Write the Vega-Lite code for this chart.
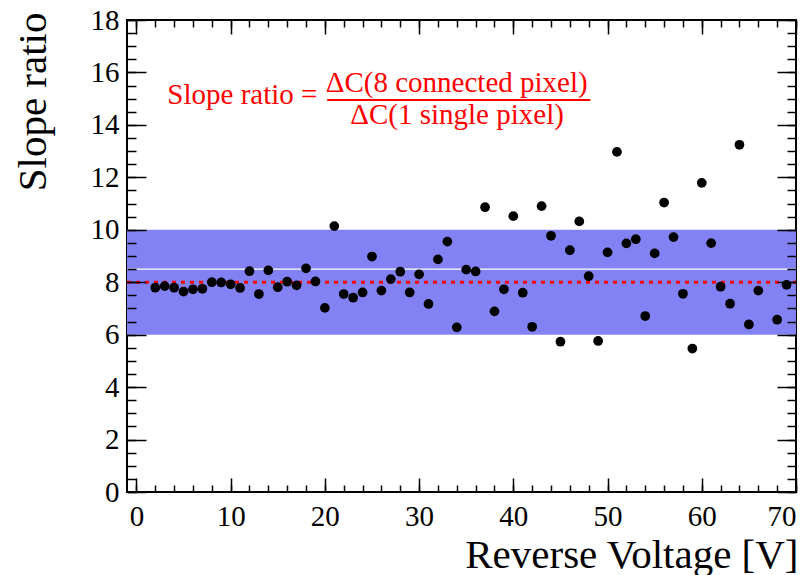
{
  "$schema": "https://vega.github.io/schema/vega-lite/v6.json",
  "width": 669,
  "height": 472,
  "autosize": {"type": "none"},
  "padding": {"left": 127, "top": 20, "right": 16, "bottom": 83},
  "background": "white",
  "config": {
    "font": "Liberation Serif",
    "view": {"stroke": "#000000", "strokeWidth": 2},
    "axis": {
      "grid": false,
      "domain": false,
      "labelFont": "Liberation Serif",
      "labelFontSize": 29,
      "labelColor": "#000000",
      "titleFont": "Liberation Serif",
      "titleFontSize": 41,
      "titleFontWeight": "normal",
      "titleColor": "#000000",
      "tickColor": "#000000",
      "tickWidth": 1.5
    }
  },
  "datasets": {
    "band": [{"x1": -1, "x2": 70, "y1": 6, "y2": 10}],
    "mean": [{"x1": -1, "x2": 70, "y": 8}],
    "whiteline": [{"x1": -1, "x2": 70, "y": 8.5}],
    "points": [
      {"voltage": 2, "ratio": 7.79}, {"voltage": 3, "ratio": 7.85}, {"voltage": 4, "ratio": 7.79},
      {"voltage": 5, "ratio": 7.64}, {"voltage": 6, "ratio": 7.73}, {"voltage": 7, "ratio": 7.75},
      {"voltage": 8, "ratio": 8.0}, {"voltage": 9, "ratio": 7.99}, {"voltage": 10, "ratio": 7.92},
      {"voltage": 11, "ratio": 7.78}, {"voltage": 12, "ratio": 8.42}, {"voltage": 13, "ratio": 7.55},
      {"voltage": 14, "ratio": 8.45}, {"voltage": 15, "ratio": 7.81}, {"voltage": 16, "ratio": 8.02},
      {"voltage": 17, "ratio": 7.88}, {"voltage": 18, "ratio": 8.53}, {"voltage": 19, "ratio": 8.03},
      {"voltage": 20, "ratio": 7.02}, {"voltage": 21, "ratio": 10.14}, {"voltage": 22, "ratio": 7.55},
      {"voltage": 23, "ratio": 7.41}, {"voltage": 24, "ratio": 7.61}, {"voltage": 25, "ratio": 8.98},
      {"voltage": 26, "ratio": 7.68}, {"voltage": 27, "ratio": 8.12}, {"voltage": 28, "ratio": 8.4},
      {"voltage": 29, "ratio": 7.61}, {"voltage": 30, "ratio": 8.3}, {"voltage": 31, "ratio": 7.17},
      {"voltage": 32, "ratio": 8.87}, {"voltage": 33, "ratio": 9.55}, {"voltage": 34, "ratio": 6.28},
      {"voltage": 35, "ratio": 8.48}, {"voltage": 36, "ratio": 8.41}, {"voltage": 37, "ratio": 10.86},
      {"voltage": 38, "ratio": 6.89}, {"voltage": 39, "ratio": 7.73}, {"voltage": 40, "ratio": 10.52},
      {"voltage": 41, "ratio": 7.6}, {"voltage": 42, "ratio": 6.3}, {"voltage": 43, "ratio": 10.9},
      {"voltage": 44, "ratio": 9.77}, {"voltage": 45, "ratio": 5.73}, {"voltage": 46, "ratio": 9.22},
      {"voltage": 47, "ratio": 10.32}, {"voltage": 48, "ratio": 8.23}, {"voltage": 49, "ratio": 5.76},
      {"voltage": 50, "ratio": 9.14}, {"voltage": 51, "ratio": 12.97}, {"voltage": 52, "ratio": 9.48},
      {"voltage": 53, "ratio": 9.64}, {"voltage": 54, "ratio": 6.71}, {"voltage": 55, "ratio": 9.1},
      {"voltage": 56, "ratio": 11.04}, {"voltage": 57, "ratio": 9.72}, {"voltage": 58, "ratio": 7.56},
      {"voltage": 59, "ratio": 5.47}, {"voltage": 60, "ratio": 11.79}, {"voltage": 61, "ratio": 9.49},
      {"voltage": 62, "ratio": 7.83}, {"voltage": 63, "ratio": 7.18}, {"voltage": 64, "ratio": 13.24},
      {"voltage": 65, "ratio": 6.39}, {"voltage": 66, "ratio": 7.68}, {"voltage": 68, "ratio": 6.57},
      {"voltage": 69, "ratio": 7.9}
    ],
    "formula": [
      {"x": 3.28, "y": 14.8, "label": "Slope ratio ="},
      {"x": 20.1, "y": 15.24, "label": "ΔC(8 connected pixel)"},
      {"x": 22.7, "y": 14.05, "label": "ΔC(1 single pixel)"}
    ],
    "fraction": [{"x1": 20.25, "x2": 48.17, "y": 14.95}]
  },
  "resolve": {"axis": {"x": "independent", "y": "independent"}},
  "layer": [
    {
      "data": {"name": "band"},
      "mark": {"type": "rect", "fill": "#8282f5", "stroke": null},
      "encoding": {
        "x": {"field": "x1", "type": "quantitative",
              "scale": {"domain": [-1, 70], "nice": false, "zero": false},
              "axis": {"orient": "bottom", "values": [0, 10, 20, 30, 40, 50, 60, 70], "ticks": false,
                       "labelFont": "Liberation Serif", "titleFont": "Liberation Serif",
                       "labelPadding": 10, "title": "Reverse Voltage [V]", "titleAnchor": "end",
                       "titleAlign": "right", "titleBaseline": "alphabetic", "titleX": 671, "titleY": 75}},
        "x2": {"field": "x2"},
        "y": {"field": "y1", "type": "quantitative",
              "scale": {"domain": [0, 18], "nice": false, "zero": false},
              "axis": {"orient": "left", "values": [0, 2, 4, 6, 8, 10, 12, 14, 16, 18], "ticks": false,
                       "labelFont": "Liberation Serif", "titleFont": "Liberation Serif",
                       "labelPadding": 8, "title": "Slope ratio", "titleAngle": -90, "titleAlign": "right",
                       "titleBaseline": "alphabetic", "titleX": -82, "titleY": -8}},
        "y2": {"field": "y2"}
      }
    },
    {
      "data": {"name": "whiteline"},
      "mark": {"type": "rule", "color": "#ffffff", "strokeWidth": 1.2},
      "encoding": {
        "x": {"field": "x1", "type": "quantitative",
              "axis": {"orient": "bottom", "values": [0, 10, 20, 30, 40, 50, 60, 70], "labels": false,
                       "tickSize": -14, "title": null, "zindex": 1}},
        "x2": {"field": "x2"},
        "y": {"field": "y", "type": "quantitative",
              "axis": {"orient": "left", "values": [0, 2, 4, 6, 8, 10, 12, 14, 16, 18], "labels": false,
                       "tickSize": -19, "title": null, "zindex": 1}}
      }
    },
    {
      "data": {"name": "mean"},
      "mark": {"type": "rule", "color": "#ff0000", "strokeWidth": 3, "strokeDash": [4, 5]},
      "encoding": {
        "x": {"field": "x1", "type": "quantitative",
              "axis": {"orient": "bottom", "values": [0, 2, 4, 6, 8, 10, 12, 14, 16, 18, 20, 22, 24, 26, 28, 30, 32, 34, 36, 38, 40, 42, 44, 46, 48, 50, 52, 54, 56, 58, 60, 62, 64, 66, 68, 70],
                       "labels": false, "tickSize": -7, "title": null, "zindex": 1}},
        "x2": {"field": "x2"},
        "y": {"field": "y", "type": "quantitative",
              "axis": {"orient": "left", "values": [0, 0.5, 1, 1.5, 2, 2.5, 3, 3.5, 4, 4.5, 5, 5.5, 6, 6.5, 7, 7.5, 8, 8.5, 9, 9.5, 10, 10.5, 11, 11.5, 12, 12.5, 13, 13.5, 14, 14.5, 15, 15.5, 16, 16.5, 17, 17.5, 18],
                       "labels": false, "tickSize": -9, "title": null, "zindex": 1}}
      }
    },
    {
      "data": {"name": "points"},
      "mark": {"type": "circle", "color": "#000000", "opacity": 1, "size": 95},
      "encoding": {
        "x": {"field": "voltage", "type": "quantitative",
              "axis": {"orient": "top", "values": [0, 10, 20, 30, 40, 50, 60, 70], "labels": false,
                       "tickSize": -14, "title": null, "zindex": 1}},
        "y": {"field": "ratio", "type": "quantitative",
              "axis": {"orient": "right", "values": [0, 2, 4, 6, 8, 10, 12, 14, 16, 18], "labels": false,
                       "tickSize": -19, "title": null, "zindex": 1}}
      }
    },
    {
      "data": {"name": "formula"},
      "mark": {"type": "text", "color": "#ff0000", "font": "Liberation Serif", "fontSize": 29,
               "align": "left", "baseline": "alphabetic"},
      "encoding": {
        "x": {"field": "x", "type": "quantitative",
              "axis": {"orient": "top", "values": [0, 2, 4, 6, 8, 10, 12, 14, 16, 18, 20, 22, 24, 26, 28, 30, 32, 34, 36, 38, 40, 42, 44, 46, 48, 50, 52, 54, 56, 58, 60, 62, 64, 66, 68, 70],
                       "labels": false, "tickSize": -7, "title": null, "zindex": 1}},
        "y": {"field": "y", "type": "quantitative",
              "axis": {"orient": "right", "values": [0, 0.5, 1, 1.5, 2, 2.5, 3, 3.5, 4, 4.5, 5, 5.5, 6, 6.5, 7, 7.5, 8, 8.5, 9, 9.5, 10, 10.5, 11, 11.5, 12, 12.5, 13, 13.5, 14, 14.5, 15, 15.5, 16, 16.5, 17, 17.5, 18],
                       "labels": false, "tickSize": -9, "title": null, "zindex": 1}},
        "text": {"field": "label", "type": "nominal"}
      }
    },
    {
      "data": {"name": "fraction"},
      "mark": {"type": "rule", "color": "#ff0000", "strokeWidth": 2},
      "encoding": {
        "x": {"field": "x1", "type": "quantitative", "axis": null},
        "x2": {"field": "x2"},
        "y": {"field": "y", "type": "quantitative", "axis": null}
      }
    }
  ]
}
